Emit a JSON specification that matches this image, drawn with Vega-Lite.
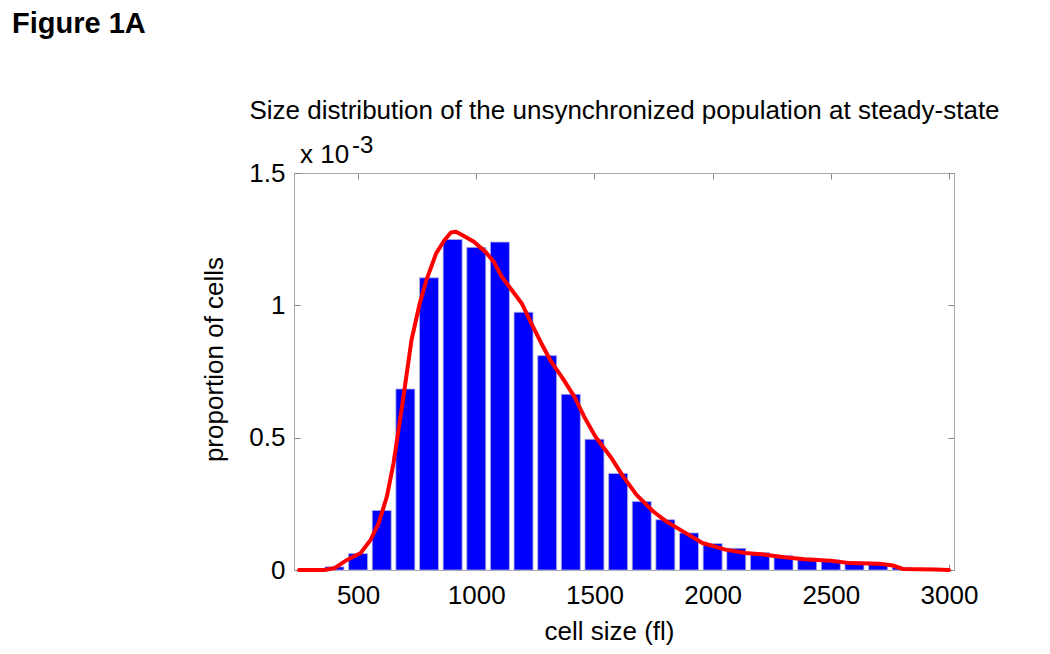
{
  "$schema": "https://vega.github.io/schema/vega-lite/v6.json",
  "autosize": {"type": "none"},
  "padding": {"left": 294, "top": 173, "right": 96, "bottom": 84},
  "width": 660,
  "height": 397,
  "background": "white",
  "title": {
    "text": "Figure 1A",
    "anchor": "start",
    "frame": "group",
    "dx": -282,
    "dy": -55,
    "font": "Liberation Sans",
    "fontSize": 29,
    "fontWeight": "bold",
    "color": "black"
  },
  "config": {
    "view": {"stroke": null},
    "font": "Liberation Sans",
    "axis": {
      "grid": false,
      "domainColor": "#a8a8a8",
      "domainWidth": 1,
      "tickColor": "#888888",
      "tickSize": -6,
      "labelFont": "Liberation Sans",
      "labelFontSize": 26,
      "labelColor": "black",
      "titleFont": "Liberation Sans",
      "titleFontSize": 26,
      "titleFontWeight": "normal",
      "titleColor": "black"
    }
  },
  "datasets": {
    "bars": [
      {"size": 400, "proportion": 0.012},
      {"size": 500, "proportion": 0.062},
      {"size": 600, "proportion": 0.225},
      {"size": 700, "proportion": 0.684},
      {"size": 800, "proportion": 1.104},
      {"size": 900, "proportion": 1.249},
      {"size": 1000, "proportion": 1.219},
      {"size": 1100, "proportion": 1.239},
      {"size": 1200, "proportion": 0.974},
      {"size": 1300, "proportion": 0.81},
      {"size": 1400, "proportion": 0.664},
      {"size": 1500, "proportion": 0.494},
      {"size": 1600, "proportion": 0.365},
      {"size": 1700, "proportion": 0.259},
      {"size": 1800, "proportion": 0.19},
      {"size": 1900, "proportion": 0.14},
      {"size": 2000, "proportion": 0.1},
      {"size": 2100, "proportion": 0.082},
      {"size": 2200, "proportion": 0.066},
      {"size": 2300, "proportion": 0.054},
      {"size": 2400, "proportion": 0.045},
      {"size": 2500, "proportion": 0.038},
      {"size": 2600, "proportion": 0.03},
      {"size": 2700, "proportion": 0.025},
      {"size": 2800, "proportion": 0.01}
    ],
    "curve": [
      {"size": 250, "proportion": 0},
      {"size": 300, "proportion": 0},
      {"size": 358, "proportion": 0},
      {"size": 400, "proportion": 0.007},
      {"size": 455, "proportion": 0.039},
      {"size": 511, "proportion": 0.064},
      {"size": 553, "proportion": 0.114},
      {"size": 587, "proportion": 0.177},
      {"size": 622, "proportion": 0.278},
      {"size": 650, "proportion": 0.404},
      {"size": 671, "proportion": 0.529},
      {"size": 692, "proportion": 0.655},
      {"size": 726, "proportion": 0.869},
      {"size": 761, "proportion": 1.008},
      {"size": 789, "proportion": 1.095},
      {"size": 830, "proportion": 1.196},
      {"size": 865, "proportion": 1.246},
      {"size": 893, "proportion": 1.275},
      {"size": 914, "proportion": 1.278},
      {"size": 942, "proportion": 1.265},
      {"size": 990, "proportion": 1.24},
      {"size": 1039, "proportion": 1.202},
      {"size": 1074, "proportion": 1.165},
      {"size": 1108, "proportion": 1.108},
      {"size": 1150, "proportion": 1.058},
      {"size": 1192, "proportion": 1.008},
      {"size": 1233, "proportion": 0.932},
      {"size": 1275, "proportion": 0.857},
      {"size": 1317, "proportion": 0.787},
      {"size": 1365, "proportion": 0.725},
      {"size": 1415, "proportion": 0.655},
      {"size": 1456, "proportion": 0.58},
      {"size": 1504, "proportion": 0.504},
      {"size": 1567, "proportion": 0.429},
      {"size": 1622, "proportion": 0.353},
      {"size": 1678, "proportion": 0.284},
      {"size": 1749, "proportion": 0.221},
      {"size": 1805, "proportion": 0.183},
      {"size": 1874, "proportion": 0.146},
      {"size": 1957, "proportion": 0.102},
      {"size": 2054, "proportion": 0.077},
      {"size": 2138, "proportion": 0.064},
      {"size": 2221, "proportion": 0.058},
      {"size": 2304, "proportion": 0.048},
      {"size": 2388, "proportion": 0.041},
      {"size": 2499, "proportion": 0.035},
      {"size": 2582, "proportion": 0.026},
      {"size": 2707, "proportion": 0.024},
      {"size": 2763, "proportion": 0.017},
      {"size": 2804, "proportion": 0.004},
      {"size": 2943, "proportion": 0.002},
      {"size": 3000, "proportion": 0}
    ],
    "note": [{"base": "x 10", "exp": "-3"}]
  },
  "resolve": {"axis": {"x": "independent", "y": "independent"}},
  "layer": [
    {
      "data": {"name": "bars"},
      "mark": {"type": "bar", "color": "#0000ff", "width": 19, "stroke": "#b4b4dc", "strokeWidth": 0.8},
      "encoding": {
        "x": {
          "field": "size", "type": "quantitative",
          "scale": {"domain": [250, 3000], "nice": false, "zero": false},
          "axis": {"orient": "bottom", "values": [500, 1000, 1500, 2000, 2500, 3000], "format": "d", "labelPadding": 18, "title": "cell size (fl)", "titlePadding": 10, "titleX": 315}
        },
        "y": {
          "field": "proportion", "type": "quantitative",
          "scale": {"domain": [0, 1.5], "nice": false, "zero": true},
          "axis": {"orient": "left", "values": [0, 0.5, 1, 1.5], "format": "~g", "labelPadding": 15, "title": "proportion of cells", "titlePadding": 21, "titleY": 186}
        }
      }
    },
    {
      "data": {"name": "curve"},
      "mark": {"type": "line", "color": "#ff0000", "strokeWidth": 4, "strokeJoin": "round", "strokeCap": "round"},
      "encoding": {
        "x": {
          "field": "size", "type": "quantitative",
          "scale": {"domain": [250, 3000], "nice": false, "zero": false},
          "axis": {"orient": "top", "values": [500, 1000, 1500, 2000, 2500, 3000], "labels": false, "title": "Size distribution of the unsynchronized population at steady-state", "titlePadding": 49}
        },
        "y": {
          "field": "proportion", "type": "quantitative",
          "scale": {"domain": [0, 1.5], "nice": false, "zero": true},
          "axis": {"orient": "right", "values": [0, 0.5, 1, 1.5], "labels": false, "title": null}
        }
      }
    },
    {
      "data": {"name": "note"},
      "mark": {"type": "text", "align": "left", "baseline": "alphabetic", "fontSize": 26, "dx": 1, "dy": -10, "color": "black"},
      "encoding": {
        "x": {"datum": 250, "type": "quantitative", "axis": null},
        "y": {"datum": 1.5, "type": "quantitative", "axis": null},
        "text": {"field": "base"}
      }
    },
    {
      "data": {"name": "note"},
      "mark": {"type": "text", "align": "left", "baseline": "alphabetic", "fontSize": 24, "dx": 53, "dy": -20, "color": "black"},
      "encoding": {
        "x": {"datum": 250, "type": "quantitative", "axis": null},
        "y": {"datum": 1.5, "type": "quantitative", "axis": null},
        "text": {"field": "exp"}
      }
    }
  ]
}
